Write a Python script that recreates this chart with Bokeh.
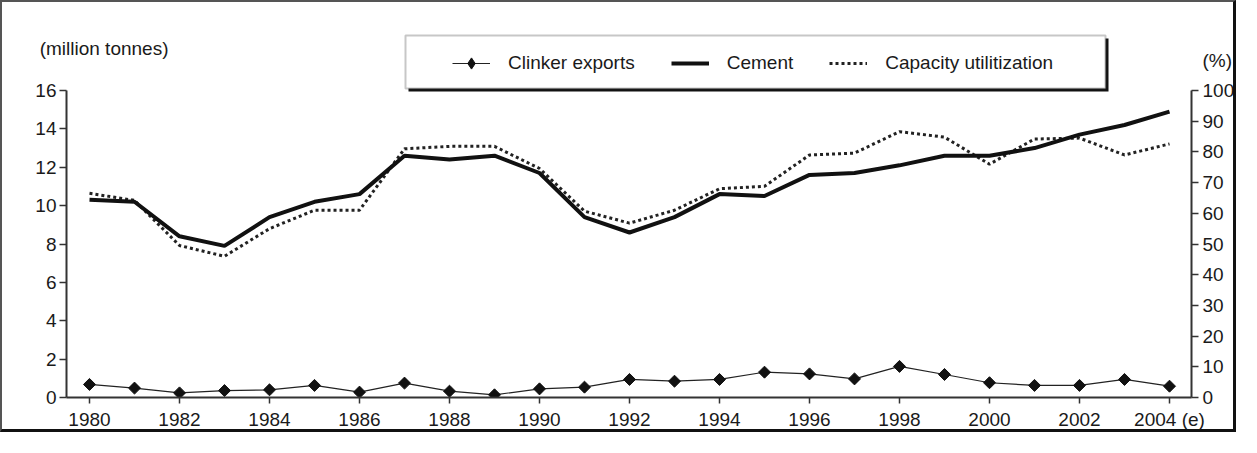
import numpy as np
from bokeh.plotting import figure
from bokeh.models import (Range1d, LinearAxis, FixedTicker, BoxAnnotation,
                          Legend, LegendItem)
from bokeh.embed import file_html
from bokeh.resources import INLINE

# ---------------- data ----------------
years = list(range(1980, 2005))
cement = [10.3, 10.2, 8.4, 7.9, 9.4, 10.2, 10.6, 12.6, 12.4, 12.6, 11.7, 9.4, 8.6,
          9.4, 10.6, 10.5, 11.6, 11.7, 12.1, 12.6, 12.6, 13.0, 13.7, 14.2, 14.9]
capacity_pct = [66.5, 64.2, 49.5, 46.0, 55.0, 61.0, 61.0, 81.0, 81.8, 81.8, 74.6, 60.7, 56.8,
                61.0, 68.0, 68.8, 79.0, 79.6, 86.6, 84.8, 76.0, 84.2, 84.5, 79.0, 82.6]
clinker = [0.68, 0.49, 0.24, 0.36, 0.40, 0.63, 0.28, 0.75, 0.33, 0.14, 0.45, 0.54, 0.94,
           0.85, 0.94, 1.32, 1.23, 0.97, 1.62, 1.20, 0.77, 0.63, 0.63, 0.94, 0.59]
left_ticks = list(range(0, 17, 2))
right_ticks = list(range(0, 101, 10))
x_ticks = list(range(1980, 2005, 2))
x_label_overrides = {2004: "2004 (e)"}
left_unit = "(million tonnes)"
right_unit = "(%)"

# ---------------- layout / style ----------------
FONT = "Liberation Sans"
FS = "19px"
W, H = 1236, 432
BL, BR, BT, BB = 64, 47, 16, 37
PX_PER_YEAR = 45.0
PX_PER_UNIT = 307.0 / 16.0
OFF = 2  # css border width on left / top
frame_w = W - BL - BR
frame_h = H - BT - BB
X0 = 1980 - (89 - OFF - BL) / PX_PER_YEAR
X1 = X0 + frame_w / PX_PER_YEAR
Y_TOP = frame_h / PX_PER_UNIT
INK = "#1a1a1a"


def px_to_x(px):
    return X0 + (px - OFF - BL) / PX_PER_YEAR


def py_to_y(py):
    return (OFF + BT + frame_h - py) / PX_PER_UNIT


p = figure(width=W, height=H, x_range=Range1d(X0, X1), y_range=Range1d(0, Y_TOP),
           output_backend="svg", toolbar_location=None,
           min_border_left=BL, min_border_right=BR, min_border_top=BT, min_border_bottom=BB)
p.extra_y_ranges = {"pct": Range1d(0, Y_TOP * 100.0 / 16.0)}
p.outline_line_color = None
p.xgrid.visible = False
p.ygrid.visible = False
p.background_fill_color = "white"
p.border_fill_color = "white"
p.styles = {"border-top": "2px solid #555", "border-left": "2px solid #555",
            "border-right": "3px solid #111", "border-bottom": "3px solid #111"}


def style_axis(ax):
    ax.axis_line_color = "#333"
    ax.axis_line_width = 2
    ax.major_tick_line_color = "#333"
    ax.major_tick_line_width = 1.5
    ax.major_tick_in = 0
    ax.major_tick_out = 7
    ax.minor_tick_line_color = None
    ax.major_label_text_font = FONT
    ax.major_label_text_font_size = FS
    ax.major_label_text_color = INK


yl = p.yaxis[0]
yl.ticker = FixedTicker(ticks=left_ticks)
yl.bounds = (0, 16)
yl.major_label_standoff = 3
style_axis(yl)

yr = LinearAxis(y_range_name="pct", ticker=FixedTicker(ticks=right_ticks), bounds=(0, 100))
style_axis(yr)
yr.major_label_standoff = 4
p.add_layout(yr, "right")

xa = p.xaxis[0]
xa.ticker = FixedTicker(ticks=x_ticks)
xa.major_label_overrides = x_label_overrides
style_axis(xa)
xa.major_tick_out = 6
xa.major_label_standoff = 5


def unit_axis(text, y_at, standoff):
    """Label-only axis stacked outside a value axis; its single tick label is the unit caption."""
    y_at = round(y_at, 2)
    ax = LinearAxis(ticker=FixedTicker(ticks=[y_at]), major_label_overrides={y_at: text},
                    major_label_standoff=standoff, axis_line_color=None,
                    major_tick_line_color=None, minor_tick_line_color=None,
                    major_tick_out=0, major_tick_in=0)
    ax.major_label_text_font = FONT
    ax.major_label_text_font_size = FS
    ax.major_label_text_color = INK
    return ax


p.add_layout(unit_axis(left_unit, py_to_y(48), -136), "left")
p.add_layout(unit_axis(right_unit, py_to_y(60), -35), "right")

# ---------------- series ----------------
r_cl_line = p.line(years, clinker, line_width=1.2, color="#222")
r_cl_pts = p.scatter(years, clinker, marker="square", angle=np.pi / 4, size=8.5,
                     fill_color="#111", line_color="#111")
r_cap = p.line(years, capacity_pct, y_range_name="pct", line_width=3, line_dash="3 3",
               color="#222", line_cap="butt")
r_cem = p.line(years, cement, line_width=4, color="#111")
# key-only marker (not drawn in the plot): a diamond as in the legend
r_cl_key = p.scatter([np.nan], [np.nan], marker="diamond", fill_color="#111", line_color="#111")

# ---------------- legend box ----------------
LX0, LX1 = px_to_x(405), px_to_x(1105)
LY1, LY0 = py_to_y(35), py_to_y(88)
dx = 3 / PX_PER_YEAR
dy = 3 / PX_PER_UNIT
p.add_layout(BoxAnnotation(left=LX0 + dx, right=LX1 + dx, top=LY1 - dy, bottom=LY0 - dy,
                           fill_color="#111", fill_alpha=1, line_color=None))
p.add_layout(BoxAnnotation(left=LX0, right=LX1, top=LY1, bottom=LY0,
                           fill_color="white", fill_alpha=1, line_color="#444", line_width=2))

GH = 28
legend = Legend(items=[LegendItem(label="Clinker exports", renderers=[r_cl_line, r_cl_key]),
                       LegendItem(label="Cement", renderers=[r_cem]),
                       LegendItem(label="Capacity utilitization", renderers=[r_cap])],
                orientation="horizontal",
                location=(452 - OFF - BL, OFF + BT + frame_h - (63 + GH / 2)),
                padding=0, margin=0, spacing=36, glyph_width=38, glyph_height=GH,
                label_height=GH, label_standoff=18,
                border_line_color=None, background_fill_alpha=0,
                label_text_font=FONT, label_text_font_size=FS, label_text_color=INK)
p.add_layout(legend, "center")

open("out.html", "w").write(file_html(p, INLINE))
